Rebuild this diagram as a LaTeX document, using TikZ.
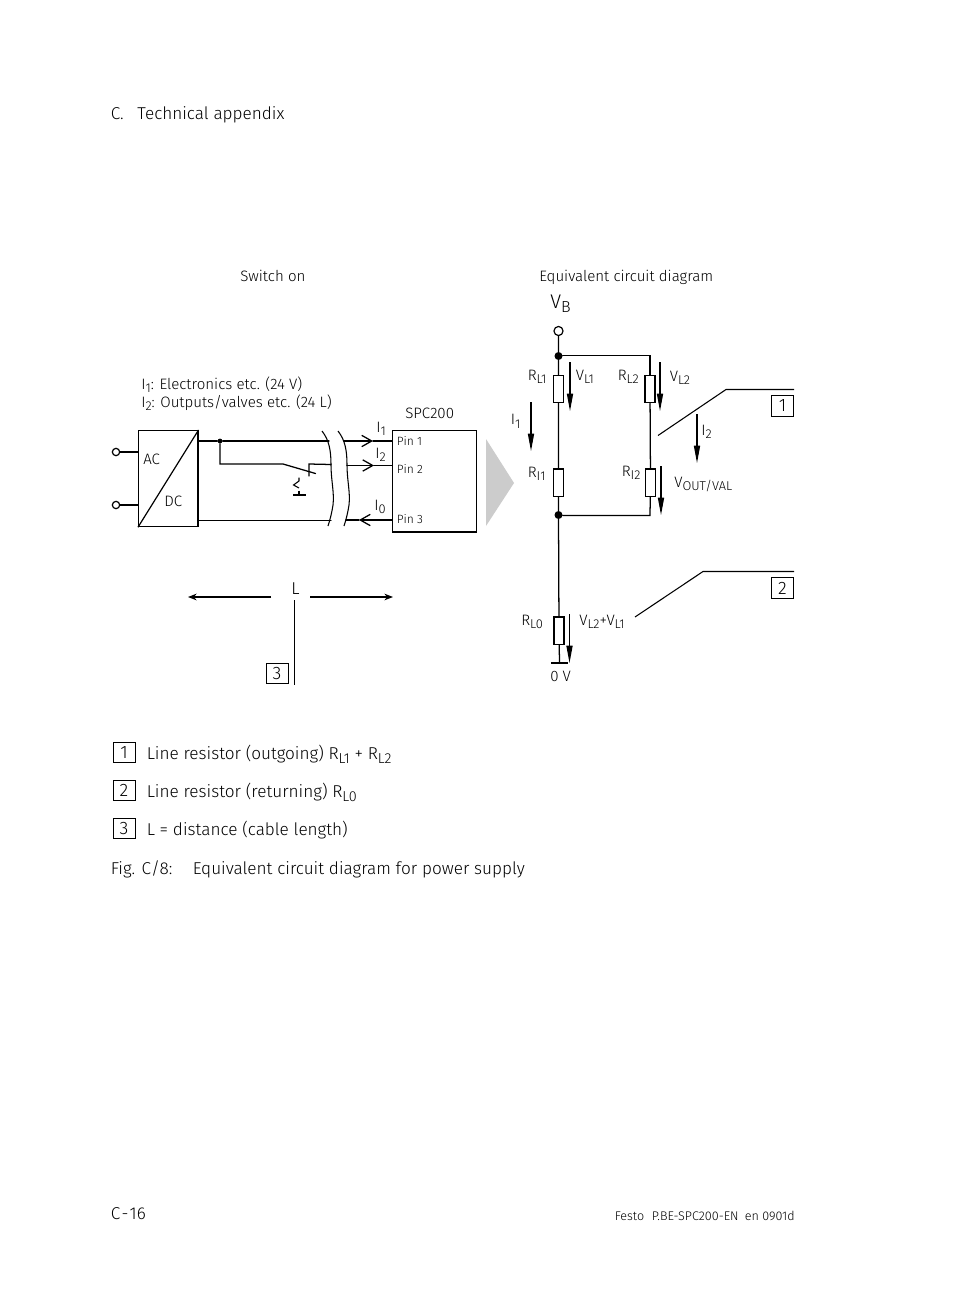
\documentclass[tikz,border=0pt]{standalone}
\usepackage{fontspec}
\setmainfont{Fira Sans}[UprightFont=* Light]
\usetikzlibrary{arrows.meta}
\newcommand\sbs[1]{\raisebox{-0.24em}{\fontsize{\subsz}{\subsz}\selectfont #1}}
\def\subsz{9.6pt}
\tikzset{
  x=0.75pt,y=-0.75pt,
  wire/.style={line width=0.95pt,line cap=round},
  thin wire/.style={line width=0.8pt},
  txt/.style={inner sep=0,anchor=base west,font=\fontsize{11.3pt}{12pt}\selectfont},
  pin/.style={txt,font=\fontsize{9pt}{10pt}\selectfont},
  bigtxt/.style={inner sep=0,anchor=base west,font=\fontsize{12.87pt}{15pt}\selectfont\def\subsz{10.8pt}},
  vbtxt/.style={inner sep=0,anchor=base west,font=\fontsize{14.8pt}{16pt}\selectfont\def\subsz{12pt}},
  numbox/.style={draw,line width=0.6pt,minimum width=16.5pt,minimum height=15.5pt,inner sep=0,font=\fontsize{13.5pt}{15pt}\selectfont},
  res/.style={draw,fill=white,line width=1pt,minimum width=7.5pt,minimum height=20.5pt,inner sep=0},
  dot/.style={circle,fill=black,inner sep=0,minimum size=6pt},
  smalldot/.style={circle,fill=black,inner sep=0,minimum size=3.6pt},
  term/.style={circle,draw,fill=white,line width=0.9pt,inner sep=0,minimum size=5.5pt},
  solidarrow/.style={line width=0.8pt,-{Stealth[length=13pt,width=4.6pt,inset=0pt]}},
  openarrow/.style={wire,-{Straight Barb[length=7.5pt,width=8.5pt,line width=0.95pt]}},
  hollowarrow/.style={line width=0.8pt,-{Stealth[length=6.5pt,width=5pt]}},
}
\begin{document}
\begin{tikzpicture}
\useasboundingbox (0,0) rectangle (954,1306);
\fill[white] (0,0) rectangle (954,1306);

% page texts
\node[bigtxt] (head) at (110.5,119) {C.\hspace{0.8em}Technical appendix};
\node[txt] (sw) at (240,281) {Switch on};
\node[txt] (eq) at (539,281) {Equivalent circuit diagram};
\node[txt] (i1t) at (141,389) {I\sbs{1}: Electronics etc. (24 V)};
\node[txt] (i2t) at (141,407) {I\sbs{2}: Outputs/valves etc. (24 L)};
\node[txt] (spc) at (405,418) {SPC200};

% converter
\node[draw,line width=0.9pt,minimum width=44.5pt,minimum height=72pt,inner sep=0,anchor=north west] (conv) at (138,430) {};
\draw[line width=0.9pt] (conv.south west) -- (conv.north east);
\node[txt] (ac) at (143,464) {AC};
\node[txt] (dc) at (164,506) {DC};
\node[term] (t1) at (116,452) {};
\node[term] (t2) at (116,505) {};
\coordinate (c1) at (138,452);
\coordinate (c2) at (138,505);
\draw[thin wire] (t1) -- (c1);
\draw[thin wire] (t2) -- (c2);

% SPC200
\node[draw,line width=0.9pt,minimum width=63pt,minimum height=76pt,inner sep=0,anchor=north west] (spcbox) at (392,430) {};
\node[pin] (p1) at (396.5,445.5) {Pin 1};
\node[pin] (p2) at (396.5,473.5) {Pin 2};
\node[pin] (p3) at (396.5,523.5) {Pin 3};
\coordinate (s1) at (392,441);
\coordinate (s2) at (392,465.5);
\coordinate (s3) at (392,520);
\node[txt] (li1) at (376,432) {I\sbs{1}};
\node[txt] (li2) at (375,458) {I\sbs{2}};
\node[txt] (li0) at (374,510) {I\sbs{0}};

% wires left of the break
\coordinate (o1) at (198,441);
\coordinate (o3) at (198,520.5);
\coordinate (b1l) at (329,441);
\coordinate (b2l) at (331,464.5);
\coordinate (b3l) at (331,520.5);
\coordinate (b1r) at (344,441);
\coordinate (b2r) at (347,465.5);
\coordinate (b3r) at (346,520);
\coordinate (tip1) at (373,441);
\coordinate (tip2) at (374,465.5);
\coordinate (tip3) at (359,520);
\node[smalldot] (j) at (220,441) {};
\coordinate (jd) at (220,464);
\coordinate (swa) at (283,464);
\coordinate (swb) at (315.5,473.5);
\coordinate (sct) at (309,464);
\coordinate (scb) at (309,476);
\draw[wire] (o1) -- (j) -- (b1l);
\draw[wire] (j) -- (jd) -- (swa) -- (swb);
\draw[wire] (scb) -- (sct) -- (b2l);
\draw[wire] (o3) -- (b3l);
\draw[openarrow] (b1r) -- (tip1);
\draw[wire] (tip1) -- (s1);
\draw[openarrow] (b2r) -- (tip2);
\draw[wire] (tip2) -- (s2);
\draw[openarrow] (s3) -- (tip3);
\draw[wire] (tip3) -- (b3r);
% break marks
\coordinate (wa) at (322,431);
\coordinate (wb) at (328,526);
\coordinate (wc) at (338,431);
\coordinate (wd) at (344,526);
\draw[thin wire] (wa) .. controls (329,440) and (331,450) .. (331,465) .. controls (331,480) and (334.5,493) .. (333,505) .. controls (332,512) and (330,520) .. (wb);
\draw[thin wire] (wc) .. controls (345,440) and (347,450) .. (347,465) .. controls (347,480) and (350.5,493) .. (349,505) .. controls (348,512) and (346,520) .. (wd);
% actuator
\coordinate (aa) at (299,477.5);
\coordinate (ab) at (299,495);
\coordinate (z1) at (299,481);
\coordinate (z2) at (293.5,485);
\coordinate (z3) at (299,488);
\coordinate (z4) at (299,490.5);
\draw[line width=0.8pt] (aa) -- (z1) -- (z2) -- (z3);
\draw[line width=0.8pt] (z4) -- (ab);
\coordinate (ga) at (293,495);
\coordinate (gb) at (306,495);
\draw[line width=0.9pt] (ga) -- (gb);

% big grey arrow
\fill[black!20] (486,439) -- (514,483) -- (486,526) -- cycle;

% equivalent circuit
\node[vbtxt] (vb) at (550,308) {V\sbs{B}};
\node[term,minimum size=6.8pt] (top) at (558.5,331) {};
\node[dot] (ja) at (558.5,356) {};
\node[dot] (jb) at (558.5,515) {};
\node[res,minimum height=20.5pt] (rl1) at (558.5,389) {};
\node[res] (ri1) at (558.5,482.5) {};
\node[res] (rl0) at (559,630.5) {};
\node[res] (rl2) at (650,389) {};
\node[res] (ri2) at (650.5,482.5) {};
\coordinate (ga2) at (551,663);
\coordinate (gb2) at (568,663);
\coordinate (gnd) at (559.5,663);
\coordinate (tr) at (650,355.5);
\coordinate (br) at (650,515.5);
\draw[wire] (top) -- (ja) -- (rl1) -- (ri1) -- (jb) -- (rl0);
\draw[wire] (rl0) -- (gnd);
\draw[line width=1.3pt] (ga2) -- (gb2);
\draw[wire] (ja.east |- tr) -- (tr) -- (rl2);
\draw[wire] (rl2) -- (ri2);
\draw[wire] (ri2) -- (br) -- (jb.east |- br);

% labels
\node[txt] (rrl1) at (527.5,380) {R\sbs{L1}};
\node[txt] (rrl2) at (617.5,380) {R\sbs{L2}};
\node[txt] (rri1) at (527.5,477) {R\sbs{I1}};
\node[txt] (rri2) at (621.5,476) {R\sbs{I2}};
\node[txt] (rrl0) at (521,625) {R\sbs{L0}};
\node[txt] (vl1) at (575.5,380) {V\sbs{L1}};
\node[txt] (vl2) at (669.5,381) {V\sbs{L2}};
\node[txt] (i1r) at (510.5,424.5) {I\sbs{1}};
\node[txt] (i2r) at (701,435) {I\sbs{2}};
\node[txt] (vout) at (674,487) {V\sbs{OUT/VAL}};
\node[txt] (vsum) at (579,625) {V\sbs{L2}+V\sbs{L1}};
\node[txt] (zero) at (550,681) {0 V};

% voltage / current arrows
\coordinate (a1s) at (570,362); \coordinate (a1e) at (570,411);
\coordinate (a2s) at (660,362); \coordinate (a2e) at (660,411);
\coordinate (a3s) at (531,402); \coordinate (a3e) at (531,451);
\coordinate (a4s) at (697,414); \coordinate (a4e) at (697,463);
\coordinate (a5s) at (661,466); \coordinate (a5e) at (661,515);
\coordinate (a6s) at (569.5,614); \coordinate (a6e) at (569.5,663);
\draw[solidarrow] (a1s) -- (a1e);
\draw[solidarrow] (a2s) -- (a2e);
\draw[solidarrow] (a3s) -- (a3e);
\draw[solidarrow] (a4s) -- (a4e);
\draw[solidarrow] (a5s) -- (a5e);
\draw[solidarrow] (a6s) -- (a6e);

% callouts
\node[numbox] (n1) at (782.5,406) {1};
\node[numbox] (n2) at (782.5,588) {2};
\node[numbox] (n3) at (277,673.5) {3};
\coordinate (l1a) at (658,435.5);
\coordinate (l1b) at (726,389.5);
\coordinate (l1c) at (794,389.5);
\coordinate (l2a) at (635,617);
\coordinate (l2b) at (703,571.5);
\coordinate (l2c) at (794,571.5);
\draw[thin wire] (l1a) -- (l1b) -- (l1c);
\draw[thin wire] (l2a) -- (l2b) -- (l2c);

% length
\node[bigtxt] (ll) at (291,594) {L};
\coordinate (la) at (271,597);
\coordinate (lb) at (188,597);
\coordinate (lc) at (310,597);
\coordinate (ld) at (393,597);
\coordinate (lt) at (294.5,600);
\coordinate (lu) at (294.5,685);
\draw[hollowarrow] (la) -- (lb);
\draw[hollowarrow] (lc) -- (ld);
\draw[line width=0.7pt] (lt) -- (lu);

% legend
\node[numbox] (k1) at (124,752.5) {1};
\node[numbox] (k2) at (124,790.5) {2};
\node[numbox] (k3) at (124,828.5) {3};
\node[bigtxt] (t1k) at (146.5,759) {Line resistor (outgoing) R\sbs{L1} + R\sbs{L2}};
\node[bigtxt] (t2k) at (146.5,797) {Line resistor (returning) R\sbs{L0}};
\node[bigtxt] (t3k) at (146.5,835) {L = distance (cable length)};
\node[bigtxt] (fig) at (110.5,874) {Fig. C/8:};
\node[bigtxt] (figt) at (192.5,874) {Equivalent circuit diagram for power supply};
\node[bigtxt] (pg) at (110.5,1219) {C\kern1pt-\kern1pt16};
\node[inner sep=0,anchor=base east,font=\fontsize{9.4pt}{11pt}\selectfont] (foot) at (795,1220) {Festo\hspace{0.6em}P.BE-SPC200-EN\hspace{0.5em}en 0901d};
\end{tikzpicture}
\end{document}
